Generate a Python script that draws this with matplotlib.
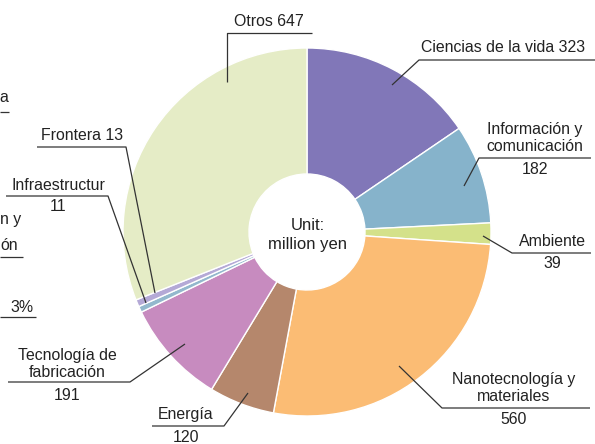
import matplotlib
matplotlib.use("Agg")
import matplotlib.pyplot as plt

plt.rcParams['font.family'] = ['Liberation Sans', 'DejaVu Sans']

categories = ["Ciencias de la vida", "Información y comunicación", "Ambiente",
              "Nanotecnología y materiales", "Energía", "Tecnología de fabricación",
              "Infraestructur", "Frontera", "Otros"]
values = [323, 182, 39, 560, 120, 191, 11, 13, 647]
colors = ["#8177b8", "#86b3cb", "#d4e18a", "#fbbc74", "#b5876c", "#c78bbf",
          "#93b8cd", "#b4a9d6", "#e5ecc6"]

W, H = 595, 444
fig = plt.figure(figsize=(W / 100, H / 100), dpi=100)
ax = fig.add_axes([0, 0, 1, 1])

def Y(y):
    return H - y

cx, cy, R, r_in = 307, 232, 184, 58
ax.pie(values, colors=colors, startangle=90, counterclock=False,
       center=(cx, Y(cy)), radius=R,
       wedgeprops=dict(width=R - r_in, edgecolor='white', linewidth=1.0),
       frame=True)
ax.set_xlim(0, W)
ax.set_ylim(0, H)
ax.set_aspect('equal')
ax.axis('off')

ax.text(cx + 1, Y(cy + 3), "Unit:\nmillion yen", ha='center', va='center',
        fontsize=12, color='#222222', linespacing=1.3)

fs = 11.4
lc = '#333333'

def leader(pts):
    xs = [p[0] for p in pts]
    ys = [Y(p[1]) for p in pts]
    ax.plot(xs, ys, color=lc, lw=0.9, solid_capstyle='butt')

def txt(x, y, s, ha='center'):
    ax.text(x, Y(y), s, ha=ha, va='center', fontsize=fs, color='#222222',
            linespacing=1.15)

# Otros
txt(269, 22, f"{categories[8]} {values[8]}")
leader([(312, 33), (227, 33), (227, 82)])
# Ciencias
txt(503, 48, f"{categories[0]} {values[0]}")
leader([(596, 60), (419, 60), (392, 85)])
# Información
txt(535, 138, "Información y\ncomunicación")
txt(535, 170, f"{values[1]}")
leader([(591, 158), (479, 158), (464, 186)])
# Ambiente
txt(552, 242, categories[2])
txt(552, 264, f"{values[2]}")
leader([(591, 253), (512, 253), (483, 236)])
# Nano
txt(514, 388, "Nanotecnología y\nmateriales")
txt(514, 420, f"{values[3]}")
leader([(590, 408), (442, 408), (399, 366)])
# Energía
txt(186, 415, categories[4])
txt(186, 437, f"{values[4]}")
leader([(152, 426), (224, 426), (248, 393)])
# Tecnología
txt(67, 364, "Tecnología de\nfabricación")
txt(67, 395, f"{values[5]}")
leader([(8, 382), (130, 382), (185, 344)])
# Infraestructur
txt(58, 185, categories[6])
txt(58, 207, f"{values[6]}")
leader([(6, 196), (108, 196), (146, 303)])
# Frontera
txt(82, 135, f"{categories[7]} {values[7]}")
leader([(37, 147), (126, 147), (155, 293)])

# visible fragments of a neighbouring chart at the left edge
txt(8, 98, "a", ha='right')
leader([(0, 112), (9, 112)])
txt(0, 220, "n y", ha='left')
txt(0, 246, "ón", ha='left')
leader([(0, 257), (23, 257)])
txt(34, 307, "3%", ha='right')
leader([(0, 317), (36, 317)])

fig.savefig("out.png", dpi=100)
